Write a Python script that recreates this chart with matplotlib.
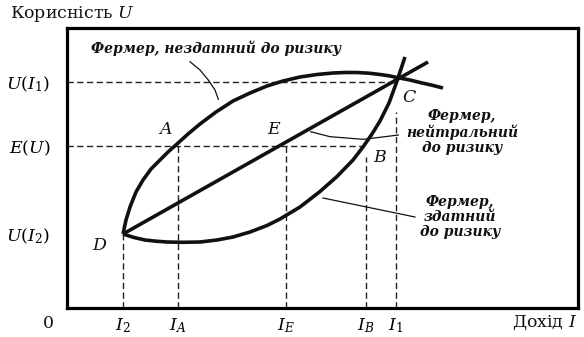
import matplotlib
matplotlib.use("Agg")
import matplotlib.pyplot as plt

plt.rcParams['font.family'] = ['DejaVu Serif']
plt.rcParams['mathtext.fontset'] = 'dejavuserif'

# ---- data (arbitrary income / utility units) ----
income_ticks = [56, 111, 219, 299, 329]            # I2, IA, IE, IB, I1
income_labels = ['$I_2$', '$I_A$', '$I_E$', '$I_B$', '$I_1$']
utility_ticks = [74, 162, 226.5]                   # U(I2), E(U), U(I1)
utility_labels = ['$U(I_2)$', '$E(U)$', '$U(I_1)$']

# risk-averse farmer (concave)
averse_x = [56, 59, 63, 69, 76, 84, 93, 101, 110, 121, 133, 149, 166, 183, 200, 216, 233,
            250, 266, 278, 290, 302, 313, 322, 330, 342, 353, 365, 376]
averse_y = [74, 88, 101, 116, 128, 139, 148, 156, 164, 174, 184, 196, 207, 215, 222, 227, 231,
            233.5, 235, 235.5, 235.5, 234.8, 233.5, 232.2, 230.5, 228.2, 225.5, 222.8, 220]
# risk-loving farmer (convex)
lover_x = [56, 67, 78, 89, 100, 116, 133, 150, 166, 183, 200, 213, 233, 253, 270, 286, 296,
           305, 313, 322, 330, 338]
lover_y = [74, 70.5, 68, 66.8, 66, 65.7, 66, 68, 71, 76, 82.5, 89, 101, 116.5, 131.5, 148, 161,
           174, 187, 205, 227, 251]
# risk-neutral farmer (straight line)
neutral_x = [56, 361]
neutral_y = [74, 246]

# leader lines of the annotations
lead_averse_x = [123, 133, 141.3, 148, 151.3]
lead_averse_y = [246.3, 238, 228, 218, 208.7]
lead_neutral_x = [243.7, 263, 296, 313, 331.3]
lead_neutral_y = [176.3, 171.3, 168.7, 170.7, 173]
lead_lover_x = [256, 348]
lead_lover_y = [110, 91]

W, H = 584, 337
fig = plt.figure(figsize=(W / 100, H / 100), dpi=100)
ax = fig.add_axes([67 / W, (H - 308) / H, (578 - 67) / W, (308 - 28) / H])
ax.set_xlim(0, 511)
ax.set_ylim(0, 280)
for s in ax.spines.values():
    s.set_linewidth(2.3)
    s.set_color('black')

ink = '#111111'
dash = dict(color='#222222', lw=1.0, dashes=(4.5, 2.5))

# dashed guide lines
I2, IA, IE, IB, I1 = income_ticks
UI2, EU, UI1 = utility_ticks
ax.plot([0, I1], [UI1, UI1], **dash)
ax.plot([0, lover_x[16]], [EU, EU], **dash)
ax.plot([I2, I2], [0, UI2], **dash)
ax.plot([IA, IA], [0, EU], **dash)
ax.plot([IE, IE], [0, EU], **dash)
ax.plot([IB, IB], [0, EU - 11], **dash)
ax.plot([I1, I1], [0, 196], **dash)

# curves
curve = dict(color=ink, lw=2.6, solid_capstyle='butt', solid_joinstyle='round')
ax.plot(averse_x, averse_y, **curve)
ax.plot(lover_x, lover_y, **curve)
ax.plot(neutral_x, neutral_y, **curve)

# leaders
ax.plot(lead_averse_x, lead_averse_y, color=ink, lw=0.9)
ax.plot(lead_neutral_x, lead_neutral_y, color=ink, lw=0.9)
ax.plot(lead_lover_x, lead_lover_y, color=ink, lw=0.9)

# ticks
ax.set_xticks(income_ticks)
ax.set_xticklabels(income_labels, fontsize=12.5)
ax.set_yticks(utility_ticks)
ax.set_yticklabels(utility_labels, fontsize=12.5)
ax.tick_params(length=0, pad=6)
ax.tick_params(axis='y', pad=12)


def P(px, py):
    return px - 67, 308 - py


kw = dict(clip_on=False, color=ink)
ax.text(*P(48, 323), '0', fontsize=12.5, ha='center', va='center', **kw)
ax.text(*P(577, 323), 'Дохід $I$', fontsize=12.5, ha='right', va='center', **kw)
ax.text(*P(10, 14), 'Корисність $U$', fontsize=12.5, ha='left', va='center', **kw)

pt = dict(fontsize=12.5, style='italic', ha='center', va='center', **kw)
ax.text(*P(100, 245), '$D$', **pt)
ax.text(*P(165, 129), '$A$', **pt)
ax.text(*P(274, 129), '$E$', **pt)
ax.text(*P(380, 157), '$B$', **pt)
ax.text(*P(409, 97), '$C$', **pt)

ann = dict(fontsize=10, style='italic', fontweight='bold', ha='center', va='center',
           linespacing=1.1, **kw)
ax.text(*P(216, 48), 'Фермер, нездатний до ризику', **ann)
ax.text(*P(462, 132), 'Фермер,\nнейтральний\nдо ризику', **ann)
ax.text(*P(460, 217), 'Фермер,\nздатний\nдо ризику', **ann)

fig.savefig('out.png', dpi=100, facecolor='white')
